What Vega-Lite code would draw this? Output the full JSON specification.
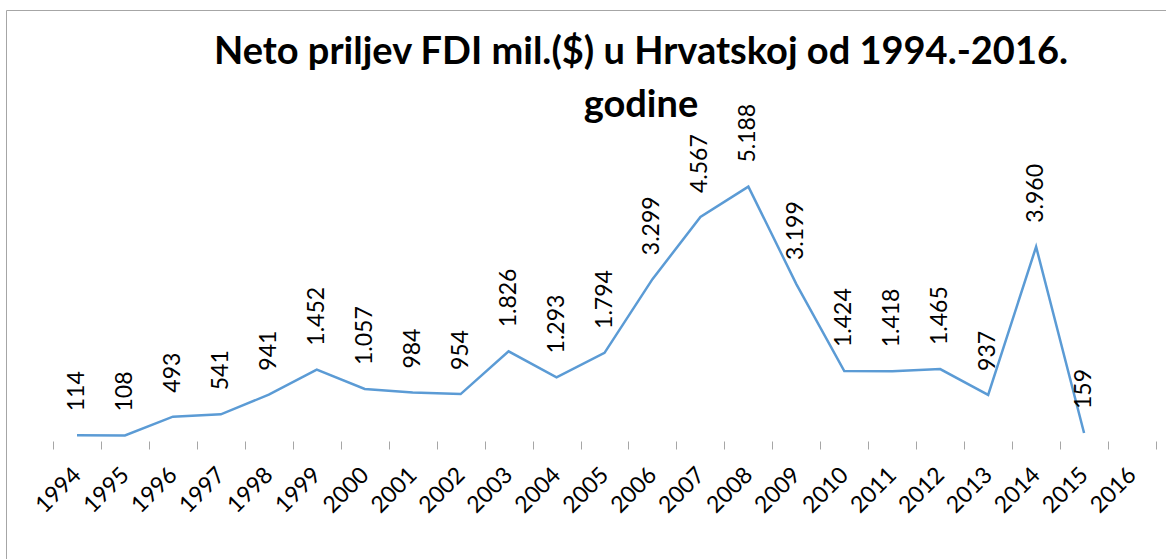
{
  "$schema": "https://vega.github.io/schema/vega-lite/v6.json",
  "autosize": {"type": "none"},
  "padding": {"left": 6, "top": 10, "right": 0, "bottom": 0},
  "width": 1160,
  "height": 549,
  "background": "white",
  "config": {
    "view": {"stroke": "#a6a6a6", "strokeWidth": 1},
    "font": "Lato",
    "locale": {"number": {"decimal": ",", "thousands": ".", "grouping": [3], "currency": ["", ""]}}
  },
  "title": {
    "text": ["Neto priljev FDI mil.($) u Hrvatskoj od 1994.-2016.", "godine"],
    "anchor": "middle",
    "frame": "group",
    "orient": "top",
    "offset": -145,
    "baseline": "alphabetic",
    "lineHeight": 53,
    "dx": 55,
    "font": "Lato",
    "fontSize": 38,
    "fontWeight": "bold",
    "color": "#000000"
  },
  "data": {
    "values": [
      {"year": "1994", "value": 114},
      {"year": "1995", "value": 108},
      {"year": "1996", "value": 493},
      {"year": "1997", "value": 541},
      {"year": "1998", "value": 941},
      {"year": "1999", "value": 1452},
      {"year": "2000", "value": 1057},
      {"year": "2001", "value": 984},
      {"year": "2002", "value": 954},
      {"year": "2003", "value": 1826},
      {"year": "2004", "value": 1293},
      {"year": "2005", "value": 1794},
      {"year": "2006", "value": 3299},
      {"year": "2007", "value": 4567},
      {"year": "2008", "value": 5188},
      {"year": "2009", "value": 3199},
      {"year": "2010", "value": 1424},
      {"year": "2011", "value": 1418},
      {"year": "2012", "value": 1465},
      {"year": "2013", "value": 937},
      {"year": "2014", "value": 3960},
      {"year": "2015", "value": 159}
    ]
  },
  "encoding": {
    "x": {
      "field": "year",
      "type": "ordinal",
      "scale": {
        "type": "band",
        "domain": ["1994","1995","1996","1997","1998","1999","2000","2001","2002","2003","2004","2005","2006","2007","2008","2009","2010","2011","2012","2013","2014","2015","2016"],
        "paddingInner": 0,
        "paddingOuter": 0.5943,
        "align": 0.8246
      },
      "axis": {
        "orient": "bottom",
        "offset": -118,
        "domain": false,
        "grid": false,
        "ticks": true,
        "tickBand": "extent",
        "tickColor": "#a6a6a6",
        "tickSize": 8,
        "tickWidth": 1,
        "labelAngle": -45,
        "labelAlign": "right",
        "labelBaseline": "middle",
        "labelPadding": 22,
        "labelFont": "Lato",
        "labelFontSize": 23,
        "labelColor": "#000000",
        "title": null
      }
    },
    "y": {
      "field": "value",
      "type": "quantitative",
      "scale": {"domain": [-2412, 8792], "nice": false, "zero": false},
      "axis": null
    }
  },
  "layer": [
    {
      "data": {"values": [{}]},
      "mark": {"type": "rule", "color": "#a6a6a6", "strokeWidth": 1},
      "encoding": {
        "x": {"datum": "1994", "bandPosition": 0},
        "x2": {"datum": "2016", "bandPosition": 1},
        "y": {"datum": 0}
      }
    },
    {
      "mark": {"type": "line", "color": "#5b9bd5", "strokeWidth": 2.5}
    },
    {
      "mark": {"type": "text", "angle": 270, "align": "left", "baseline": "middle", "dx": 24, "font": "Lato", "fontSize": 23, "color": "#000000"},
      "encoding": {
        "text": {"field": "value", "type": "quantitative", "format": ",d"}
      }
    }
  ]
}
